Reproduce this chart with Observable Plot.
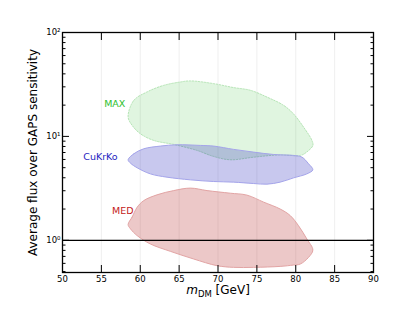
<!DOCTYPE html>
<html>
<head>
<meta charset="utf-8">
<script src="https://cdn.jsdelivr.net/npm/d3@7"></script>
<script src="https://cdn.jsdelivr.net/npm/@observablehq/plot@0.6"></script>
<style>
  html, body { margin: 0; padding: 0; background: white; }
  #chart { width: 415px; height: 320px; }
</style>
</head>
<body>
<div id="chart"></div>
<script>
// --- Data (closed outlines of the bands) ---
const maxX = [58.44, 59.17, 60.88, 63.02, 65.16, 66.45, 69.44, 72.0, 74.15, 76.3, 78.44, 79.7, 81.0, 82.08, 82.2, 81.4, 80.6, 78.0, 74.58, 71.58, 69.44, 67.3, 64.3, 61.73, 60.02, 58.95];
const maxY = [15.4, 22.2, 26.8, 31.0, 33.4, 34.2, 32.2, 29.5, 27.8, 23.9, 19.9, 16.5, 12.3, 9.15, 8.19, 7.06, 6.56, 6.65, 6.31, 5.96, 6.41, 7.33, 8.37, 9.15, 10.6, 12.8];

const cukX = [58.44, 59.17, 60.45, 62.59, 64.73, 67.73, 69.44, 72.01, 74.58, 77.15, 79.72, 80.79, 81.65, 82.2, 81.43, 79.72, 78.0, 76.3, 74.58, 72.01, 69.44, 66.45, 63.45, 61.3, 59.6, 58.74];
const cukY = [5.96, 6.8, 7.6, 8.07, 8.31, 8.19, 8.07, 7.5, 7.06, 6.7, 6.56, 6.32, 5.45, 4.77, 4.36, 3.99, 3.63, 3.47, 3.52, 3.63, 3.68, 3.82, 4.05, 4.36, 4.99, 5.53];

const medX = [58.44, 58.95, 59.6, 60.45, 62.16, 64.3, 66.45, 68.59, 71.58, 73.73, 75.87, 78.0, 79.29, 80.36, 81.43, 82.2, 81.65, 80.58, 79.72, 78.0, 74.58, 72.01, 69.87, 66.87, 63.88, 61.3, 59.6, 58.74];
const medY = [1.42, 1.67, 2.08, 2.41, 2.74, 3.01, 3.18, 3.01, 2.84, 2.72, 2.33, 2.0, 1.73, 1.38, 1.03, 0.807, 0.686, 0.591, 0.578, 0.561, 0.549, 0.549, 0.570, 0.661, 0.783, 0.922, 1.11, 1.29];

const bandNames = ["MAX", "CuKrKo", "MED"];
const labelX = [56.72, 54.88, 57.75];
const labelY = [20.5, 6.32, 1.9];

const xTicks = [50, 55, 60, 65, 70, 75, 80, 85, 90];
const xGrid = [55, 60, 65, 70, 75, 80, 85];
const yMajor = [1, 10, 100];
const yMinor = [0.5, 0.6, 0.7, 0.8, 0.9, 2, 3, 4, 5, 6, 7, 8, 9, 20, 30, 40, 50, 60, 70, 80, 90];
const yTickLabels = ["10\u2070", "10\u00b9", "10\u00b2"];
const yLabel = "Average flux over GAPS sensitivity";
const xLabel = "mDM [GeV]";
const refLine = [1];

// --- build tables ---
const toPts = (xs, ys) => xs.map((x, i) => ({x, y: ys[i]}));
const maxPts = toPts(maxX, maxY);
const cukPts = toPts(cukX, cukY);
const medPts = toPts(medX, medY);
const labels = bandNames.map((n, i) => ({name: n, x: labelX[i], y: labelY[i]}));
const labelColors = {"MAX": "#2ec02e", "CuKrKo": "#2323c0", "MED": "#c41a1a"};

const supFmt = d => yTickLabels[yMajor.indexOf(d)] ?? "";
const blank = () => "";

const plot = Plot.plot({
  width: 415,
  height: 320,
  marginLeft: 62,
  marginRight: 42,
  marginTop: 32,
  marginBottom: 48,
  style: {fontFamily: "'DejaVu Sans', sans-serif", fontSize: "8.5px", background: "white", color: "black"},
  x: {domain: [50, 90]},
  y: {type: "log", domain: [0.49, 100]},
  marks: [
    Plot.gridX(xGrid, {stroke: "#d8d8d8", strokeOpacity: 0.5, strokeWidth: 0.8}),
    Plot.line(maxPts, {x: "x", y: "y", curve: "catmull-rom-closed", fill: "rgb(48,188,48)", fillOpacity: 0.15, stroke: "#b4e4b4", strokeWidth: 1, strokeDasharray: "1.5,1.5"}),
    Plot.line(cukPts, {x: "x", y: "y", curve: "catmull-rom-closed", fill: "rgb(35,35,187)", fillOpacity: 0.25, stroke: "#a4a4ea", strokeWidth: 1}),
    Plot.line(medPts, {x: "x", y: "y", curve: "catmull-rom-closed", fill: "rgb(179,35,35)", fillOpacity: 0.25, stroke: "#e2a4a4", strokeWidth: 1}),
    Plot.ruleY(refLine, {stroke: "black", strokeWidth: 1.2}),
    Plot.text(labels, {x: "x", y: "y", text: "name", fill: d => labelColors[d.name], fontSize: 9.5, textAnchor: "middle"}),
    Plot.frame({stroke: "black", strokeWidth: 1.3}),
    // bottom / top x ticks (inward)
    Plot.axisX({anchor: "bottom", ticks: xTicks, tickSize: -7, tickPadding: 10, tickFormat: d => String(d), label: null, strokeWidth: 1}),
    Plot.axisX({anchor: "top", ticks: xTicks, tickSize: -7, tickFormat: blank, label: null}),
    // left / right y ticks
    Plot.axisY({anchor: "left", ticks: yMajor, tickSize: -7, tickPadding: 9, tickFormat: supFmt, label: null}),
    Plot.axisY({anchor: "left", ticks: yMinor, tickSize: -3.5, tickFormat: blank, label: null}),
    Plot.axisY({anchor: "right", ticks: yMajor, tickSize: -7, tickFormat: blank, label: null}),
    Plot.axisY({anchor: "right", ticks: yMinor, tickSize: -3.5, tickFormat: blank, label: null}),
    Plot.text([yLabel], {frameAnchor: "left", rotate: -90, dx: -29, fontSize: 12, textAnchor: "middle", fill: "black"}),
    Plot.text([xLabel], {frameAnchor: "bottom", dy: 21.5, fontSize: 12, textAnchor: "middle", fill: "black"})
  ]
});

document.getElementById("chart").appendChild(plot);

// style the x-axis label with italic m and subscript DM
d3.select(plot).selectAll("text").filter(function() { return this.textContent === xLabel; }).each(function() {
  const t = d3.select(this);
  t.text(null);
  t.append("tspan").attr("font-style", "italic").text("m");
  t.append("tspan").attr("font-size", "8.5").attr("dy", "2.5").text("DM");
  t.append("tspan").attr("dy", "-2.5").text(" [GeV]");
});
</script>
</body>
</html>
